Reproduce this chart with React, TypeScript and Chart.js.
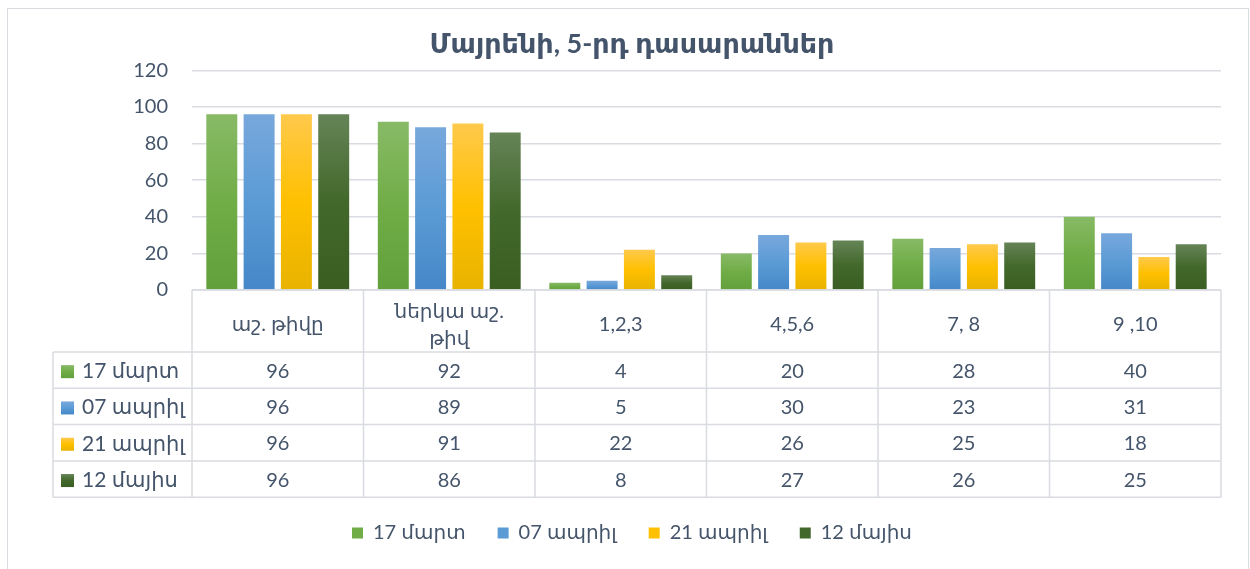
import React, { useEffect, useRef } from "react";
import { Chart, registerables } from "chart.js";

Chart.register(...registerables);

const titleText = "Մայրենի, 5-րդ դասարաններ";
const categories: string[][] = [["աշ. թիվը"], ["ներկա աշ.", "թիվ"], ["1,2,3"], ["4,5,6"], ["7, 8"], ["9 ,10"]];
const seriesNames = ["17 մարտ", "07 ապրիլ", "21 ապրիլ", "12 մայիս"];
const march17 = [96, 92, 4, 20, 28, 40];
const april07 = [96, 89, 5, 30, 23, 31];
const april21 = [96, 91, 22, 26, 25, 18];
const may12 = [96, 86, 8, 27, 26, 25];
const seriesValues = [march17, april07, april21, may12];
const yTickValues = [0, 20, 40, 60, 80, 100, 120];

const palettes: string[][] = [
  ["#88BA66", "#70AD47", "#62A03B"],
  ["#78A8DC", "#5B9BD5", "#4587C8"],
  ["#FFC94C", "#FFC000", "#E8B300"],
  ["#658457", "#43682B", "#3A5E22"],
];

const FONT = 'Lato, "DejaVu Sans", sans-serif';
const TEXT = "#44546A";
const LINE = "#D9DCE1";

function makeGradient(ctx: CanvasRenderingContext2D, top: number, bottom: number, c: string[]) {
  const g = ctx.createLinearGradient(0, top, 0, bottom);
  g.addColorStop(0, c[0]);
  g.addColorStop(0.5, c[1]);
  g.addColorStop(1, c[2]);
  return g;
}

const framePlugin = {
  id: "frame",
  beforeDraw(chart: any) {
    const { ctx, width, height } = chart;
    ctx.save();
    ctx.fillStyle = "#FFFFFF";
    ctx.fillRect(0, 0, width, height);
    ctx.strokeStyle = LINE;
    ctx.lineWidth = 1;
    ctx.strokeRect(0.5, 0.5, width - 1, height - 1);
    ctx.restore();
  },
};

const tablePlugin = {
  id: "dataTable",
  afterDraw(chart: any) {
    const { ctx, chartArea } = chart;
    const x = chart.scales.x;
    const n = categories.length;
    const colW = (chartArea.right - chartArea.left) / n;
    const top = chartArea.bottom;
    const headerH = 62;
    const rowH = 36.3;
    const leftEdge = 46;
    const rowsTop = top + headerH;
    const bottom = rowsTop + rowH * seriesNames.length;
    const bounds: number[] = [];
    for (let i = 0; i < n; i++) bounds.push(x.getPixelForValue(i) - colW / 2);
    bounds.push(x.getPixelForValue(n - 1) + colW / 2);

    ctx.save();
    ctx.strokeStyle = LINE;
    ctx.lineWidth = 1.5;
    ctx.beginPath();
    ctx.moveTo(bounds[0], top);
    ctx.lineTo(bounds[n], top);
    for (let r = 0; r <= seriesNames.length; r++) {
      const yy = rowsTop + r * rowH;
      ctx.moveTo(leftEdge, yy);
      ctx.lineTo(bounds[n], yy);
    }
    for (let i = 0; i <= n; i++) {
      ctx.moveTo(bounds[i], top);
      ctx.lineTo(bounds[i], bottom);
    }
    ctx.moveTo(leftEdge, rowsTop);
    ctx.lineTo(leftEdge, bottom);
    ctx.stroke();

    ctx.fillStyle = TEXT;
    ctx.textAlign = "center";
    ctx.textBaseline = "middle";
    ctx.font = `20px ${FONT}`;
    for (let i = 0; i < n; i++) {
      const cx = x.getPixelForValue(i);
      const lines = categories[i];
      const lh = 27;
      const cy = top + 35 - ((lines.length - 1) * lh) / 2;
      lines.forEach((l, k) => ctx.fillText(l, cx, cy + k * lh));
    }
    for (let r = 0; r < seriesNames.length; r++) {
      const cy = rowsTop + r * rowH + rowH / 2 + 1;
      ctx.textAlign = "center";
      ctx.font = `20px ${FONT}`;
      for (let i = 0; i < n; i++) {
        ctx.fillText(String(seriesValues[r][i]), x.getPixelForValue(i), cy);
      }
      const bx = 54;
      ctx.fillStyle = makeGradient(ctx, cy - 6, cy + 7, palettes[r]);
      ctx.fillRect(bx, cy - 6, 13, 13);
      ctx.fillStyle = TEXT;
      ctx.textAlign = "left";
      ctx.font = `21px ${FONT}`;
      ctx.fillText(seriesNames[r], bx + 21, cy);
    }
    ctx.restore();
  },
};

export default function App() {
  const canvasRef = useRef<HTMLCanvasElement | null>(null);

  useEffect(() => {
    document.documentElement.style.overflow = "hidden";
    const canvas = canvasRef.current;
    if (!canvas) return;
    const datasets = seriesNames.map((name, s) => ({
      label: name,
      data: seriesValues[s],
      backgroundColor: (c: any) => {
        const chart = c.chart;
        const y = chart.scales && chart.scales.y;
        if (!y || c.type !== "data" || !chart.chartArea) return palettes[s][1];
        const t = y.getPixelForValue(c.raw);
        const b = y.getPixelForValue(0);
        if (!isFinite(t) || !isFinite(b) || Math.abs(b - t) < 1) return palettes[s][1];
        return makeGradient(chart.ctx, t, b, palettes[s]);
      },
      borderWidth: 0,
      barPercentage: 0.83,
      categoryPercentage: 0.87,
    }));

    const chart = new Chart(canvas, {
      type: "bar",
      data: { labels: categories.map((c) => c.join(" ")), datasets },
      plugins: [framePlugin, tablePlugin],
      options: {
        animation: false,
        responsive: true,
        maintainAspectRatio: false,
        layout: { padding: { left: 8, right: 0, top: 0, bottom: 30 } },
        font: { family: FONT },
        plugins: {
          title: {
            display: true,
            text: titleText,
            color: TEXT,
            font: { family: FONT, size: 27, weight: "bold" },
            padding: { top: 20, bottom: 10 },
          },
          legend: {
            position: "bottom",
            labels: {
              color: TEXT,
              font: { family: FONT, size: 20 },
              boxWidth: 11,
              boxHeight: 11,
              padding: 32,
              generateLabels: () =>
                seriesNames.map((name, s) => ({
                  text: name,
                  fillStyle: palettes[s][1],
                  strokeStyle: palettes[s][1],
                  lineWidth: 0,
                  hidden: false,
                  datasetIndex: s,
                  fontColor: TEXT,
                })),
            },
          },
          tooltip: { enabled: false },
        },
        scales: {
          x: {
            grid: { display: false },
            border: { display: false },
            ticks: { display: false },
            afterFit: (scale: any) => {
              scale.height = 201;
            },
          },
          y: {
            min: 0,
            max: 120,
            afterBuildTicks: (scale: any) => {
              scale.ticks = yTickValues.map((v) => ({ value: v }));
            },
            grid: { color: LINE, lineWidth: 1.5, drawTicks: false },
            border: { display: false },
            ticks: {
              color: TEXT,
              font: { family: FONT, size: 20 },
              padding: 24,
            },
            afterFit: (scale: any) => {
              scale.width = 177;
            },
          },
          yRightSpace: {
            position: "right",
            min: 0,
            max: 120,
            grid: { display: false, drawOnChartArea: false },
            border: { display: false },
            ticks: { display: false },
            afterFit: (scale: any) => {
              scale.width = 28;
            },
          },
        },
      } as any,
    });
    return () => chart.destroy();
  }, []);

  return (
    <div style={{ position: "fixed", left: 7, top: 8, width: 1242, height: 575 }}>
      <canvas ref={canvasRef} />
    </div>
  );
}
